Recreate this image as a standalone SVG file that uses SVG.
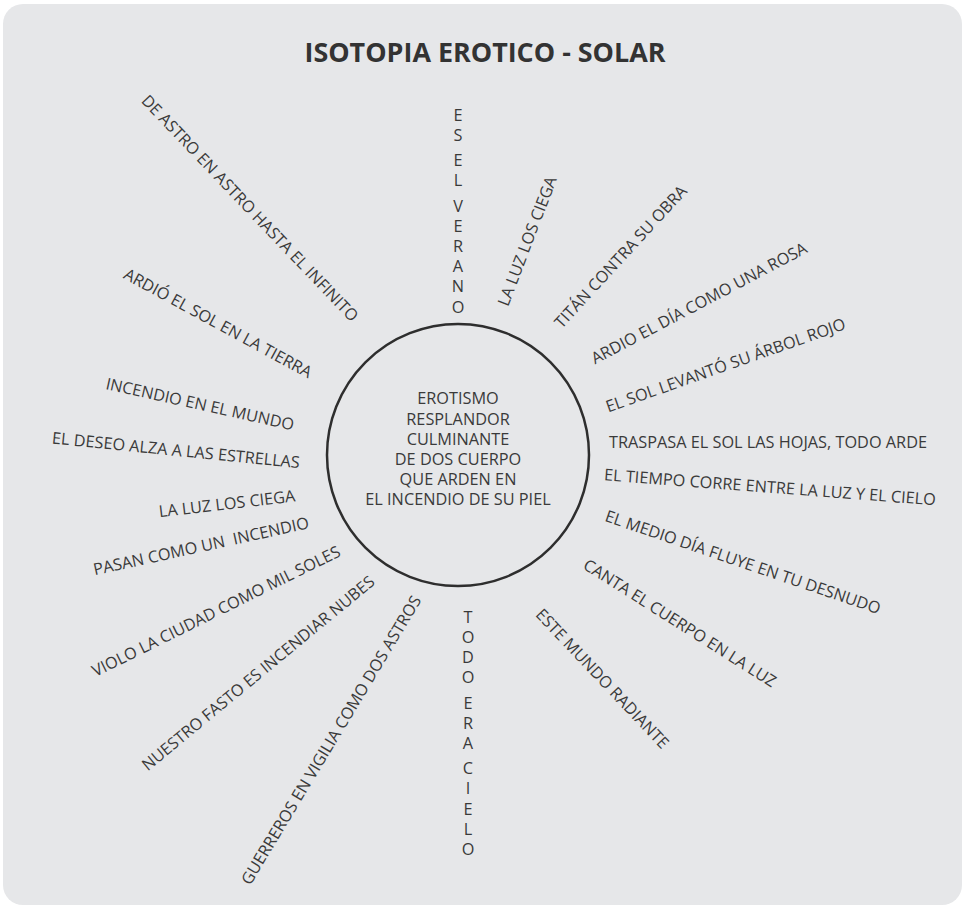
<svg xmlns="http://www.w3.org/2000/svg" width="963" height="906" viewBox="0 0 963 906">
<style>
.bg{fill:#e6e7e9;}
.t{font-family:"Open Sans","Noto Sans","Liberation Sans",sans-serif;font-size:16.3px;fill:#3a3a3a;text-anchor:middle;}
.lbl{font-family:"Open Sans","Noto Sans","Liberation Sans",sans-serif;font-size:16.3px;fill:#3a3a3a;text-anchor:middle;white-space:pre;}
.title{font-family:"Open Sans","Noto Sans","Liberation Sans",sans-serif;font-size:26px;font-weight:700;fill:#333333;text-anchor:middle;}
.ring{fill:none;stroke:#2e2e2e;stroke-width:2.5;}
</style>
<rect width="963" height="906" fill="#ffffff"/>
<rect class="bg" x="3" y="4" width="959" height="901" rx="20" ry="20"/>
<g id="title"><text class="title" x="485" y="62" textLength="361" lengthAdjust="spacingAndGlyphs">ISOTOPIA EROTICO - SOLAR</text></g>
<g id="connectors"/>
<g id="center">
<circle class="ring" cx="458" cy="455" r="131"/>
<text class="t" x="458"><tspan x="458" y="404.3">EROTISMO</tspan><tspan x="458" y="424.5">RESPLANDOR</tspan><tspan x="458" y="444.7">CULMINANTE</tspan><tspan x="458" y="464.9">DE DOS CUERPO</tspan><tspan x="458" y="485.1">QUE ARDEN EN</tspan><tspan x="458" y="505.3">EL INCENDIO DE SU PIEL</tspan></text>
</g>
<g id="es-el-verano"><text class="t"><tspan x="458" y="120.8">E</tspan><tspan x="458" y="141">S</tspan><tspan x="458" y="166.2">E</tspan><tspan x="458" y="186.4">L</tspan><tspan x="458" y="211.6">V</tspan><tspan x="458" y="231.8">E</tspan><tspan x="458" y="252">R</tspan><tspan x="458" y="272.2">A</tspan><tspan x="458" y="292.4">N</tspan><tspan x="458" y="312.6">O</tspan></text></g>
<g id="todo-era-cielo"><text class="t"><tspan x="468" y="622.8">T</tspan><tspan x="468" y="643">O</tspan><tspan x="468" y="663.2">D</tspan><tspan x="468" y="683.4">O</tspan><tspan x="468" y="708.6">E</tspan><tspan x="468" y="728.8">R</tspan><tspan x="468" y="749">A</tspan><tspan x="468" y="774.2">C</tspan><tspan x="468" y="794.4">I</tspan><tspan x="468" y="814.6">E</tspan><tspan x="468" y="834.8">L</tspan><tspan x="468" y="855">O</tspan></text></g>
<g id="l1"><text class="lbl" x="250" y="208" dy="0.36em" transform="rotate(46.4 250 208)">DE ASTRO EN ASTRO HASTA EL INFINITO</text></g>
<g id="l2"><text class="lbl" x="218" y="323" dy="0.36em" transform="rotate(28.5 218 323)">ARDIÓ EL SOL EN LA TIERRA</text></g>
<g id="l3"><text class="lbl" x="200" y="404" dy="0.36em" transform="rotate(12.5 200 404)">INCENDIO EN EL MUNDO</text></g>
<g id="l4"><text class="lbl" x="176" y="450" dy="0.36em" transform="rotate(5.7 176 450)">EL DESEO ALZA A LAS ESTRELLAS</text></g>
<g id="l5"><text class="lbl" x="227" y="503.5" dy="0.36em" transform="rotate(-6.7 227 503.5)">LA LUZ LOS CIEGA</text></g>
<g id="l6"><text class="lbl" x="201" y="546" dy="0.36em" transform="rotate(-12.4 201 546)">PASAN COMO UN  INCENDIO</text></g>
<g id="l7"><text class="lbl" x="216" y="611" dy="0.36em" transform="rotate(-26.3 216 611)">VIOLO LA CIUDAD COMO MIL SOLES</text></g>
<g id="l8"><text class="lbl" x="258" y="673" dy="0.36em" transform="rotate(-39.5 258 673)">NUESTRO FASTO ES INCENDIAR NUBES</text></g>
<g id="l9"><text class="lbl" x="331" y="740" dy="0.36em" transform="rotate(-59 331 740)">GUERREROS EN VIGILIA COMO DOS ASTROS</text></g>
<g id="l10"><text class="lbl" x="527" y="241" dy="0.36em" transform="rotate(-69 527 241)">LA LUZ LOS CIEGA</text></g>
<g id="l11"><text class="lbl" x="620.5" y="256.5" dy="0.36em" transform="rotate(-47.4 620.5 256.5)">TITÁN CONTRA SU OBRA</text></g>
<g id="l12"><text class="lbl" x="699" y="303" dy="0.36em" transform="rotate(-27.8 699 303)">ARDIO EL DÍA COMO UNA ROSA</text></g>
<g id="l13"><text class="lbl" x="725.5" y="365" dy="0.36em" transform="rotate(-19.4 725.5 365)">EL SOL LEVANTÓ SU ÁRBOL ROJO</text></g>
<g id="l14"><text class="lbl" x="768" y="442" dy="0.36em">TRASPASA EL SOL LAS HOJAS, TODO ARDE</text></g>
<g id="l15"><text class="lbl" x="770" y="487" dy="0.36em" transform="rotate(4.3 770 487)">EL TIEMPO CORRE ENTRE LA LUZ Y EL CIELO</text></g>
<g id="l16"><text class="lbl" x="743" y="562" dy="0.36em" transform="rotate(18.8 743 562)">EL MEDIO DÍA FLUYE EN TU DESNUDO</text></g>
<g id="l17"><text class="lbl" x="680" y="623" dy="0.36em" transform="rotate(32.3 680 623)">CANTA EL CUERPO EN LA LUZ</text></g>
<g id="l18"><text class="lbl" x="602.5" y="678.5" dy="0.36em" transform="rotate(46.6 602.5 678.5)">ESTE MUNDO RADIANTE</text></g>
</svg>
